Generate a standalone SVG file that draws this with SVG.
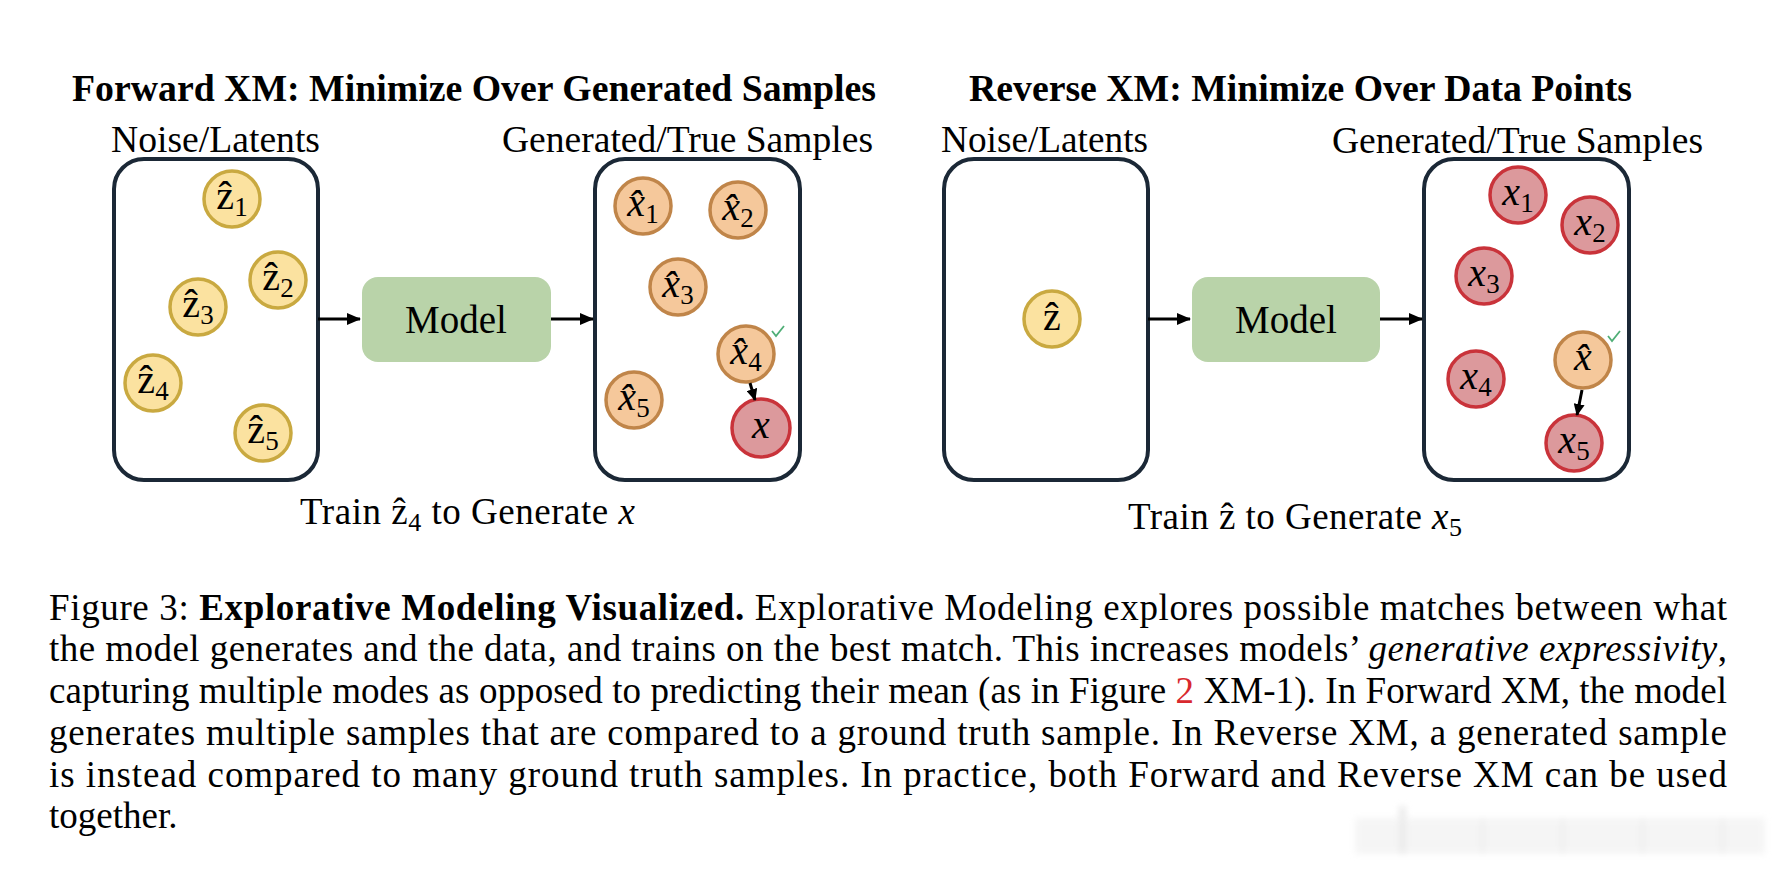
<svg xmlns="http://www.w3.org/2000/svg" width="1790" height="880" viewBox="0 0 1790 880">
<defs>
<marker id="ah" markerUnits="userSpaceOnUse" markerWidth="14" markerHeight="12" refX="13" refY="6" orient="auto">
<path d="M0,0 L14,6 L0,12 Z" fill="#000"/>
</marker>
<marker id="ahs" markerUnits="userSpaceOnUse" markerWidth="12" markerHeight="11" refX="11" refY="5.5" orient="auto">
<path d="M0,0 L12,5.5 L0,11 Z" fill="#000"/>
</marker>
<filter id="blur" x="-10%" y="-30%" width="120%" height="160%"><feGaussianBlur stdDeviation="3"/></filter>
</defs>
<style>
.t{font-family:'Liberation Serif','Times New Roman',serif;fill:#000}
.title{font-size:37px;font-weight:bold}
.lab{font-size:37px}
.mdl{font-size:39px}
.box{fill:#fff;stroke:#1b2836;stroke-width:4}
.model{fill:#b9d3a9}
.zc{fill:#fbe2a0;stroke:#c9a940;stroke-width:3.5}
.oc{fill:#f5c89b;stroke:#c08549;stroke-width:3.5}
.rc{fill:#dc999c;stroke:#c9333a;stroke-width:3.5}
.m{font-family:'Liberation Serif','Times New Roman',serif;font-size:40px;fill:#000;text-anchor:middle}
.i{font-style:italic}
.sub{font-size:27px;font-style:normal}
.cn{stroke:#000;stroke-width:3;fill:none}
.chk{stroke:#4fae76;stroke-width:1.8;fill:none}
.cap{font-family:'Liberation Serif','Times New Roman',serif;font-size:37px;fill:#000}
</style>
<rect width="1790" height="880" fill="#fff"/>

<g id="titles">
<text class="t title" x="72" y="101" textLength="804" lengthAdjust="spacingAndGlyphs">Forward XM: Minimize Over Generated Samples</text>
<text class="t title" x="969" y="101" textLength="663" lengthAdjust="spacingAndGlyphs">Reverse XM: Minimize Over Data Points</text>
<text class="t lab" x="111" y="152" textLength="209" lengthAdjust="spacingAndGlyphs">Noise/Latents</text>
<text class="t lab" x="502" y="152" textLength="371" lengthAdjust="spacingAndGlyphs">Generated/True Samples</text>
<text class="t lab" x="941" y="152" textLength="207" lengthAdjust="spacingAndGlyphs">Noise/Latents</text>
<text class="t lab" x="1332" y="153" textLength="371" lengthAdjust="spacingAndGlyphs">Generated/True Samples</text>
</g>

<g id="fwd-latents">
<rect class="box" x="114" y="159" width="204" height="321" rx="30"/>
<circle class="zc" cx="232" cy="199" r="28"/><text class="m" x="232" y="209">ẑ<tspan class="sub" dy="7">1</tspan></text>
<circle class="zc" cx="278" cy="280" r="28"/><text class="m" x="278" y="290">ẑ<tspan class="sub" dy="7">2</tspan></text>
<circle class="zc" cx="198" cy="307" r="28"/><text class="m" x="198" y="317">ẑ<tspan class="sub" dy="7">3</tspan></text>
<circle class="zc" cx="153" cy="383" r="28"/><text class="m" x="153" y="393">ẑ<tspan class="sub" dy="7">4</tspan></text>
<circle class="zc" cx="263" cy="433" r="28"/><text class="m" x="263" y="443">ẑ<tspan class="sub" dy="7">5</tspan></text>
</g>

<g id="fwd-model">
<rect class="model" x="362" y="277" width="189" height="85" rx="16"/>
<text class="t mdl" x="456" y="333" text-anchor="middle">Model</text>
</g>

<g id="fwd-samples">
<rect class="box" x="595" y="159" width="205" height="321" rx="30"/>
<circle class="oc" cx="643" cy="206" r="28"/><text class="m" x="643" y="216"><tspan class="i">x̂</tspan><tspan class="sub" dy="7">1</tspan></text>
<circle class="oc" cx="738" cy="210" r="28"/><text class="m" x="738" y="220"><tspan class="i">x̂</tspan><tspan class="sub" dy="7">2</tspan></text>
<circle class="oc" cx="678" cy="287" r="28"/><text class="m" x="678" y="297"><tspan class="i">x̂</tspan><tspan class="sub" dy="7">3</tspan></text>
<circle class="oc" cx="746" cy="354" r="28"/><text class="m" x="746" y="364"><tspan class="i">x̂</tspan><tspan class="sub" dy="7">4</tspan></text>
<circle class="oc" cx="634" cy="400" r="28"/><text class="m" x="634" y="410"><tspan class="i">x̂</tspan><tspan class="sub" dy="7">5</tspan></text>
<circle class="rc" cx="761" cy="428" r="29"/><text class="m i" x="761" y="438">x</text>
<path class="chk" d="M772,331 l4,5 l8,-10"/>
</g>

<g id="rev-latents">
<rect class="box" x="944" y="159" width="204" height="321" rx="30"/>
<circle class="zc" cx="1052" cy="319" r="28"/><text class="m" x="1052" y="330">ẑ</text>
</g>

<g id="rev-model">
<rect class="model" x="1192" y="277" width="188" height="85" rx="16"/>
<text class="t mdl" x="1286" y="333" text-anchor="middle">Model</text>
</g>

<g id="rev-samples">
<rect class="box" x="1424" y="159" width="205" height="321" rx="30"/>
<circle class="rc" cx="1518" cy="195" r="28"/><text class="m" x="1518" y="205"><tspan class="i">x</tspan><tspan class="sub" dy="7">1</tspan></text>
<circle class="rc" cx="1590" cy="225" r="28"/><text class="m" x="1590" y="235"><tspan class="i">x</tspan><tspan class="sub" dy="7">2</tspan></text>
<circle class="rc" cx="1484" cy="276" r="28"/><text class="m" x="1484" y="286"><tspan class="i">x</tspan><tspan class="sub" dy="7">3</tspan></text>
<circle class="rc" cx="1476" cy="379" r="28"/><text class="m" x="1476" y="389"><tspan class="i">x</tspan><tspan class="sub" dy="7">4</tspan></text>
<circle class="oc" cx="1583" cy="360" r="28"/><text class="m i" x="1583" y="370">x̂</text>
<circle class="rc" cx="1574" cy="443" r="28"/><text class="m" x="1574" y="453"><tspan class="i">x</tspan><tspan class="sub" dy="7">5</tspan></text>
<path class="chk" d="M1608,336 l4,5 l8,-10"/>
</g>

<g id="connectors">
<line class="cn" x1="318" y1="319" x2="360" y2="319" marker-end="url(#ah)"/>
<line class="cn" x1="551" y1="319" x2="593" y2="319" marker-end="url(#ah)"/>
<line class="cn" x1="1148" y1="319" x2="1190" y2="319" marker-end="url(#ah)"/>
<line class="cn" x1="1380" y1="319" x2="1422" y2="319" marker-end="url(#ah)"/>
<line class="cn" x1="750" y1="383" x2="755" y2="400" marker-end="url(#ahs)"/>
<line class="cn" x1="1582" y1="390" x2="1577" y2="415" marker-end="url(#ahs)"/>
</g>

<g id="sublabels">
<text class="t lab" x="300" y="524" textLength="335" lengthAdjust="spacing">Train ẑ<tspan font-size="26" dy="7">4</tspan><tspan dy="-7"> to Generate </tspan><tspan font-style="italic">x</tspan></text>
<text class="t lab" x="1128" y="529" textLength="334" lengthAdjust="spacing">Train ẑ to Generate <tspan font-style="italic">x</tspan><tspan font-size="26" dy="7">5</tspan></text>
</g>

<g id="caption">
<text class="cap" x="49" y="620" textLength="1678" lengthAdjust="spacing">Figure 3: <tspan font-weight="bold">Explorative Modeling Visualized.</tspan> Explorative Modeling explores possible matches between what</text>
<text class="cap" x="49" y="661" textLength="1678" lengthAdjust="spacing">the model generates and the data, and trains on the best match. This increases models’ <tspan font-style="italic">generative expressivity</tspan>,</text>
<text class="cap" x="49" y="703" textLength="1678" lengthAdjust="spacing">capturing multiple modes as opposed to predicting their mean (as in Figure <tspan fill="#d8282e">2</tspan> XM-1). In Forward XM, the model</text>
<text class="cap" x="49" y="745" textLength="1678" lengthAdjust="spacing">generates multiple samples that are compared to a ground truth sample. In Reverse XM, a generated sample</text>
<text class="cap" x="49" y="787" textLength="1678" lengthAdjust="spacing">is instead compared to many ground truth samples. In practice, both Forward and Reverse XM can be used</text>
<text class="cap" x="49" y="828">together.</text>
</g>

<g id="smudge" filter="url(#blur)" opacity="0.5">
<rect x="1355" y="818" width="410" height="36" fill="#ececec"/>
<rect x="1399" y="806" width="7" height="48" fill="#d8d8d8"/>
<rect x="1480" y="818" width="5" height="36" fill="#e0e0e0"/>
<rect x="1560" y="818" width="5" height="36" fill="#e0e0e0"/>
<rect x="1640" y="818" width="5" height="36" fill="#e0e0e0"/>
<rect x="1720" y="818" width="5" height="36" fill="#e0e0e0"/>
</g>
</svg>
